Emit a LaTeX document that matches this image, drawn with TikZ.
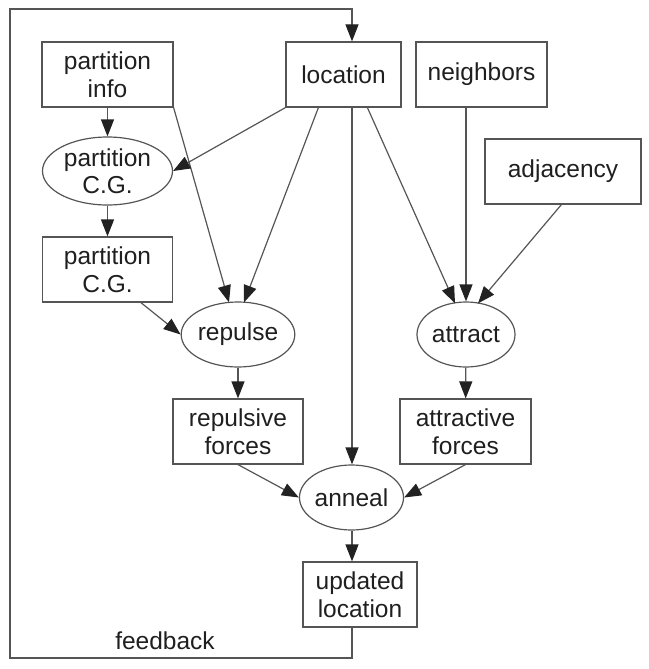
\documentclass[tikz,border=0pt]{standalone}
\usepackage{fontspec}
\setmainfont{Liberation Sans}
\usetikzlibrary{shapes.geometric,arrows.meta,calc}
\definecolor{ln}{HTML}{555555}
\definecolor{ah}{HTML}{222222}
\begin{document}
\begin{tikzpicture}[x=1pt,y=-1pt,
  every node/.style={font=\fontsize{24.5}{27.5}\selectfont, text=black!88, align=center, inner sep=0pt},
  boxn/.style={draw=ln, line width=1.2pt, rectangle},
  elln/.style={draw=ln, line width=1.2pt, ellipse},
  conn/.style={draw=ln, line width=1.2pt, -{Triangle[length=17pt,width=13pt,fill=ah,color=ah]}}]
\useasboundingbox (0,0) rectangle (648,669);
\node[boxn, minimum width=131pt, minimum height=65pt] (pinfo) at (107.5,74.5) {partition\\info};
\node[boxn, minimum width=115pt, minimum height=65pt] (loc) at (343.5,74.5) {location};
\node[boxn, minimum width=131pt, minimum height=65pt] (nb) at (481.5,74.5) {neighbors};
\node[boxn, minimum width=156pt, minimum height=65pt] (adj) at (563,171.5) {adjacency};
\node[elln, minimum width=130pt, minimum height=68pt] (pcge) at (107.5,171) {partition\\C.G.};
\node[boxn, minimum width=130pt, minimum height=65pt] (pcgb) at (107.5,269.5) {partition\\C.G.};
\node[elln, minimum width=98pt, minimum height=65pt] (rep) at (238,334.5) {repulse};
\node[elln, minimum width=98pt, minimum height=65pt] (att) at (466,334.5) {attract};
\node[boxn, minimum width=130pt, minimum height=65pt] (repf) at (238,431.5) {repulsive\\forces};
\node[boxn, minimum width=131pt, minimum height=65pt] (attf) at (465.5,431.5) {attractive\\forces};
\node[elln, minimum width=97pt, minimum height=65pt] (ann) at (351.5,497.5) {anneal};
\node[boxn, minimum width=114pt, minimum height=65pt] (upd) at (360,594.5) {updated\\location};
\node (fb) at (165,641) {feedback};
\coordinate (c1) at (352,658);
\coordinate (c2) at (10,658);
\coordinate (c3) at (10,9);
\coordinate (c4) at (352,9);
% feedback loop
\draw[conn] (upd.south -| c1) -- (c1) -- (c2) -- (c3) -- (c4) -- (loc.north -| c4);
% edges
\draw[conn] (pinfo.south -| pcge.north) -- (pcge.north);
\draw[conn] (pinfo.south east) -- ($(rep.north)+(-9,1)$);
\draw[conn] (loc.south west) -- (pcge.east);
\draw[conn] ($(loc.south west)+(33,0)$) -- ($(rep.north)+(6,1)$);
\draw[conn] (loc.south -| c1) -- (ann.north -| c1);
\draw[conn] ($(loc.south west)+(82,0)$) -- ($(att.north)+(-11,2)$);
\draw[conn] (nb.south -| att.north) -- (att.north);
\draw[conn] ($(adj.south west)+(77,0)$) -- ($(att.north)+(12,2)$);
\draw[conn] (pcge) -- (pcgb);
\draw[conn] ($(pcgb.south west)+(99,0)$) -- (rep.west);
\draw[conn] (rep) -- (repf);
\draw[conn] (att) -- (attf);
\draw[conn] (repf.south) -- (ann.west);
\draw[conn] (attf.south) -- (ann.east);
\draw[conn] (ann.south -| c1) -- (upd.north -| c1);
\end{tikzpicture}
\end{document}
